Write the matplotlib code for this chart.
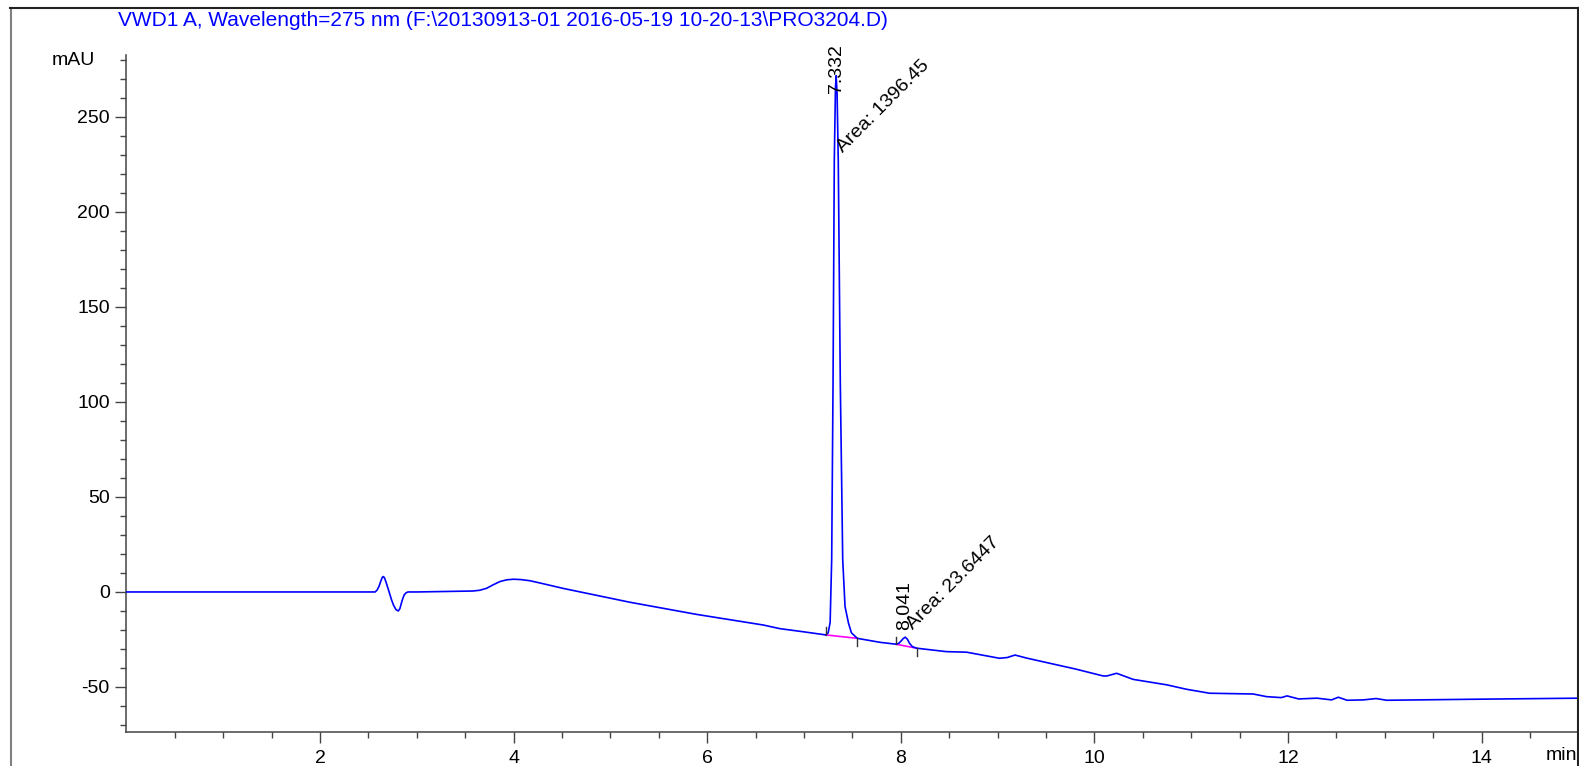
#########################################
##      Chromatogram: VWD1 A 275 nm     ##
#########################################

import matplotlib
matplotlib.use('Agg')
import matplotlib.pyplot as plt
from matplotlib.lines import Line2D

plt.rcParams['font.family'] = ['Liberation Sans', 'DejaVu Sans']
plt.rcParams['axes.unicode_minus'] = False

# ----------------------------------------------------#
# Data (time in min, signal in mAU)

time_min = [0.0, 2.57, 2.59, 2.61, 2.63, 2.645, 2.654, 2.665, 2.68, 2.70, 2.72, 2.74, 2.76,
            2.785, 2.809, 2.825, 2.84, 2.855, 2.87, 2.89, 2.91, 3.0,
            3.58, 3.65, 3.72, 3.79, 3.86, 3.93, 4.0, 4.08, 4.17, 4.30, 4.51, 5.20, 5.89,
            6.58, 6.75, 7.0,
            7.224, 7.25, 7.27, 7.286, 7.30, 7.313, 7.325, 7.332, 7.342, 7.354, 7.375,
            7.40, 7.424, 7.46, 7.49, 7.55, 7.785,
            7.95, 7.98, 8.0, 8.025, 8.047, 8.07, 8.09, 8.12, 8.164, 8.47, 8.68, 9.02, 9.10,
            9.18, 9.30, 9.51, 9.80, 10.09, 10.13, 10.23, 10.40, 10.75, 10.95, 11.19, 11.64,
            11.78, 11.93, 11.99, 12.11, 12.30, 12.45, 12.52, 12.61, 12.78, 12.91, 13.02,
            13.85, 15.0]

signal_mau = [0.0, 0.0, 1.0, 3.0, 6.0, 7.8, 8.1, 7.6, 5.5, 2.3, -1.0, -4.3, -7.0,
              -9.3, -10.0, -8.8, -6.0, -3.5, -1.5, -0.4, 0.0, 0.0,
              0.5, 0.9, 1.9, 3.8, 5.5, 6.4, 6.7, 6.5, 5.9, 4.4, 1.9, -5.4, -11.8,
              -17.4, -19.3, -21.0,
              -22.6, -21.5, -16.0, 17.0, 110.0, 227.0, 265.0, 271.7, 262.0, 227.0, 110.0,
              17.0, -7.7, -16.5, -21.5, -24.4, -26.5,
              -27.5, -27.0, -26.0, -24.5, -23.8, -25.0, -27.0, -28.8, -29.6, -31.4, -31.7,
              -34.9, -34.5,
              -33.2, -34.8, -37.2, -40.5, -44.2, -44.2, -42.8, -46.0, -48.9, -51.2, -53.3, -53.7,
              -55.1, -55.6, -54.7, -56.3, -55.9, -56.8, -55.4, -57.0, -56.8, -56.1, -57.0,
              -56.5, -55.9]

# Integrated peaks: retention time, area, baseline start/end
peak_rt = [7.332, 8.041]
peak_area = ['1396.45', '23.6447']
base_t0 = [7.224, 7.95]
base_t1 = [7.55, 8.164]
base_v0 = [-22.6, -27.5]
base_v1 = [-24.4, -29.6]

# Label anchors (rotated retention time + area text)
rt_label_y = [262.6, -20.0]
area_label_x = [7.40, 8.125]
area_label_y = [231.0, -20.0]

title = 'VWD1 A, Wavelength=275 nm (F:\\20130913-01 2016-05-19 10-20-13\\PRO3204.D)'

# ----------------------------------------------------#

W, H = 1579, 766
FS = 14
fig = plt.figure(figsize=(W / 100, H / 100), dpi=100)
ax = fig.add_axes([126.4 / W, (H - 732) / H, (1578.4 - 126.4) / W, (732 - 55) / H])

ax.plot(time_min, signal_mau, color='#0000ff', lw=1.2, zorder=3)

# Baselines and start/end markers
for i in range(len(peak_rt)):
    ax.plot([base_t0[i], base_t1[i]], [base_v0[i], base_v1[i]], color='#ff00ff', lw=1.2, zorder=2)
    ax.plot([base_t0[i], base_t0[i]], [base_v0[i], base_v0[i] + 4], color='#333333', lw=1.0, zorder=4)
    ax.plot([base_t1[i], base_t1[i]], [base_v1[i], base_v1[i] - 4], color='#333333', lw=1.0, zorder=4)

    ax.text(peak_rt[i], rt_label_y[i], f'{peak_rt[i]:.3f}', rotation=90, rotation_mode='anchor',
            ha='left', va='center', fontsize=FS, zorder=5)
    ax.text(area_label_x[i], area_label_y[i], f'Area: {peak_area[i]}', rotation=45,
            rotation_mode='anchor', ha='left', va='baseline', fontsize=FS, zorder=5)

# Axes styling
ax.set_xlim(0, 15)
ax.set_ylim(-73.7, 282.6)
ax.set_xticks([2, 4, 6, 8, 10, 12, 14])
ax.set_xticks([x * 0.5 for x in range(1, 30)], minor=True)
ax.set_yticks([-50, 0, 50, 100, 150, 200, 250])
ax.set_yticks(list(range(-70, 290, 10)), minor=True)

for side in ['top', 'right']:
    ax.spines[side].set_visible(False)
for side in ['left', 'bottom']:
    ax.spines[side].set_color('#444444')
    ax.spines[side].set_linewidth(1.1)

ax.tick_params(which='major', length=8, width=1.0, color='#444444', labelsize=FS)
ax.tick_params(axis='y', which='major', pad=4)
ax.tick_params(axis='x', which='major', pad=5)
ax.tick_params(which='minor', length=4, width=1.0, color='#444444')

# Title, units and outer frame
fig.text(118 / W, 1 - 20 / H, title, color='#0000ff', fontsize=15, ha='left', va='center')
fig.text(95 / W, 1 - 60.7 / H, 'mAU', fontsize=FS, ha='right', va='center')
fig.text(1577 / W, 1 - 756 / H, 'min', fontsize=FS, ha='right', va='center')

fig.add_artist(Line2D([10.5 / W, 10.5 / W], [0, 1 - 8 / H], color='#808080', lw=1.5))
fig.add_artist(Line2D([10 / W, 1578 / W], [1 - 8 / H, 1 - 8 / H], color='#222222', lw=1.5))
fig.add_artist(Line2D([1577.5 / W, 1577.5 / W], [0, 1 - 8 / H], color='#222222', lw=1.5))

fig.savefig('out.png', dpi=100)
